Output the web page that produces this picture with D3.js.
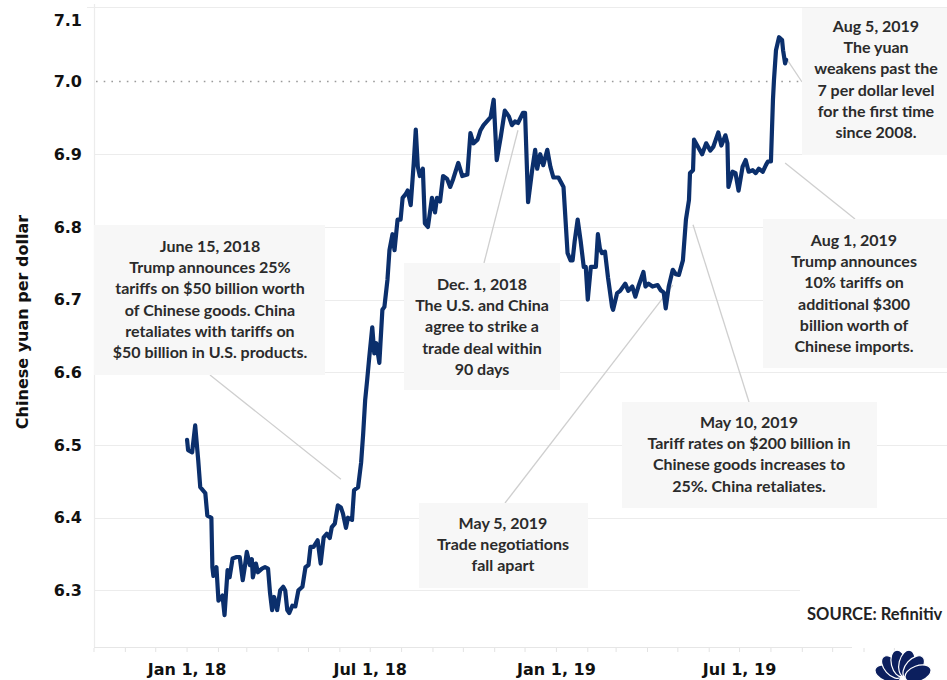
<!DOCTYPE html>
<html>
<head>
<meta charset="utf-8">
<script src="https://d3js.org/d3.v7.min.js"></script>
<style>
  body { margin: 0; background: #fff; }
  svg { display: block; }
</style>
</head>
<body>
<svg width="947" height="680"></svg>
<script>
  // USD/CNY daily close
  var dates = [
    "2018-01-01","2018-01-02","2018-01-06","2018-01-09","2018-01-12","2018-01-14","2018-01-19","2018-01-21",
    "2018-01-25","2018-01-26","2018-01-27","2018-01-30","2018-02-01","2018-02-05","2018-02-07","2018-02-10",
    "2018-02-12","2018-02-15","2018-02-19","2018-02-22","2018-02-25","2018-02-27","2018-03-01","2018-03-04",
    "2018-03-06","2018-03-07","2018-03-10","2018-03-12","2018-03-16","2018-03-19","2018-03-22","2018-03-24",
    "2018-03-26","2018-03-28","2018-03-31","2018-04-03","2018-04-06","2018-04-08","2018-04-10","2018-04-12",
    "2018-04-15","2018-04-18","2018-04-21","2018-04-25","2018-04-28","2018-05-01","2018-05-03","2018-05-06",
    "2018-05-10","2018-05-13","2018-05-16","2018-05-19","2018-05-22","2018-05-24","2018-05-27","2018-05-30",
    "2018-06-02","2018-06-04","2018-06-07","2018-06-09","2018-06-13","2018-06-15","2018-06-19","2018-06-22",
    "2018-06-24","2018-06-26","2018-06-28","2018-06-30","2018-07-03","2018-07-05","2018-07-07","2018-07-10",
    "2018-07-13","2018-07-15","2018-07-18","2018-07-20","2018-07-23","2018-07-25","2018-07-28","2018-07-31",
    "2018-08-02","2018-08-05","2018-08-07","2018-08-10","2018-08-13","2018-08-15","2018-08-17","2018-08-19",
    "2018-08-22","2018-08-24","2018-08-27","2018-08-31","2018-09-03","2018-09-05","2018-09-08","2018-09-11",
    "2018-09-15","2018-09-18","2018-09-21","2018-09-26","2018-09-30","2018-10-05","2018-10-08","2018-10-11",
    "2018-10-15","2018-10-18","2018-10-21","2018-10-28","2018-10-31","2018-11-03","2018-11-07","2018-11-11",
    "2018-11-15","2018-11-18","2018-11-21","2018-11-24","2018-11-29","2018-12-01","2018-12-04","2018-12-08",
    "2018-12-11","2018-12-13","2018-12-16","2018-12-19","2018-12-23","2018-12-26","2018-12-29","2019-01-03",
    "2019-01-08","2019-01-12","2019-01-15","2019-01-17","2019-01-19","2019-01-22","2019-01-25","2019-01-28",
    "2019-01-30","2019-02-01","2019-02-04","2019-02-09","2019-02-11","2019-02-13","2019-02-15","2019-02-18",
    "2019-02-21","2019-02-25","2019-02-26","2019-03-02","2019-03-05","2019-03-10","2019-03-13","2019-03-17",
    "2019-03-20","2019-03-23","2019-03-28","2019-03-30","2019-04-02","2019-04-06","2019-04-11","2019-04-14",
    "2019-04-17","2019-04-19","2019-04-22","2019-04-26","2019-04-29","2019-05-02","2019-05-06","2019-05-09",
    "2019-05-12","2019-05-13","2019-05-16","2019-05-17","2019-05-21","2019-05-25","2019-05-29","2019-06-02",
    "2019-06-05","2019-06-10","2019-06-13","2019-06-17","2019-06-19","2019-06-20","2019-06-24","2019-06-27",
    "2019-06-30","2019-07-04","2019-07-07","2019-07-10","2019-07-14","2019-07-17","2019-07-20","2019-07-24",
    "2019-07-27","2019-07-29","2019-08-01","2019-08-03","2019-08-04","2019-08-06","2019-08-09","2019-08-12",
    "2019-08-13","2019-08-15","2019-08-16"
  ];
  var rates = [
    6.507,6.493,6.490,6.527,6.479,6.442,6.434,6.403,
    6.400,6.332,6.320,6.332,6.286,6.293,6.266,6.328,
    6.318,6.344,6.346,6.346,6.314,6.332,6.353,6.335,
    6.343,6.318,6.337,6.325,6.330,6.332,6.330,6.296,
    6.273,6.291,6.273,6.300,6.305,6.300,6.273,6.269,
    6.279,6.278,6.300,6.305,6.332,6.335,6.360,6.360,
    6.369,6.337,6.373,6.378,6.372,6.387,6.392,6.417,
    6.414,6.406,6.386,6.400,6.397,6.438,6.442,6.476,
    6.515,6.562,6.590,6.620,6.662,6.626,6.640,6.613,
    6.686,6.690,6.727,6.768,6.790,6.768,6.810,6.810,
    6.840,6.845,6.850,6.830,6.888,6.934,6.883,6.870,
    6.880,6.805,6.800,6.840,6.820,6.840,6.835,6.870,
    6.866,6.855,6.866,6.888,6.870,6.872,6.929,6.915,
    6.920,6.933,6.940,6.951,6.975,6.892,6.924,6.960,
    6.952,6.940,6.945,6.943,6.957,6.957,6.834,6.878,
    6.906,6.880,6.900,6.885,6.906,6.883,6.868,6.868,
    6.855,6.764,6.754,6.754,6.780,6.810,6.780,6.745,
    6.745,6.700,6.745,6.745,6.790,6.770,6.764,6.766,
    6.730,6.690,6.686,6.709,6.712,6.722,6.712,6.718,
    6.704,6.718,6.738,6.718,6.722,6.718,6.720,6.713,
    6.710,6.688,6.718,6.741,6.735,6.734,6.754,6.810,
    6.837,6.874,6.878,6.920,6.910,6.900,6.915,6.905,
    6.910,6.930,6.912,6.926,6.915,6.855,6.876,6.874,
    6.850,6.883,6.892,6.876,6.878,6.874,6.880,6.876,
    6.885,6.890,6.890,6.975,7.002,7.043,7.061,7.057,
    7.043,7.025,7.030
  ];

  var yTicks = [6.3, 6.4, 6.5, 6.6, 6.7, 6.8, 6.9, 7.0, 7.1];
  var xTickDates = ["2018-01-01", "2018-07-01", "2019-01-01", "2019-07-01"];

  var noteTexts = [
    ["June 15, 2018", "Trump announces 25%", "tariffs on $50 billion worth", "of Chinese goods. China", "retaliates with tariffs on", "$50 billion in U.S. products."],
    ["Dec. 1, 2018", "The U.S. and China", "agree to strike a", "trade deal within", "90 days"],
    ["May 5, 2019", "Trade negotiations", "fall apart"],
    ["May 10, 2019", "Tariff rates on $200 billion in", "Chinese goods increases to", "25%. China retaliates."],
    ["Aug 1, 2019", "Trump announces", "10% tariffs on", "additional $300", "billion worth of", "Chinese imports."],
    ["Aug 5, 2019", "The yuan", "weakens past the", "7 per dollar level", "for the first time", "since 2008."]
  ];
  // point on the curve each leader line goes to
  var noteTargetDates = ["2018-06-02", "2018-11-24", "2019-04-26", "2019-05-16", "2019-08-15", "2019-08-17"];
  var noteTargetValues = [6.453, 6.933, 6.720, 6.803, 6.888, 7.030];

  // box layout (pixels)
  var noteBoxes = [
    { x: 94, y: 225, w: 231, h: 150, cx: 210, first: 252, lx: 210, ly: 375 },
    { x: 404, y: 263, w: 156, h: 127, cx: 482, first: 290, lx: 484, ly: 263 },
    { x: 419, y: 503, w: 169, h: 85, cx: 503, first: 529, lx: 505, ly: 503 },
    { x: 622, y: 402, w: 255, h: 106, cx: 749, first: 428, lx: 749, ly: 402 },
    { x: 763, y: 219, w: 184, h: 149, cx: 854, first: 246, lx: 855, ly: 219 },
    { x: 802, y: 8, w: 145, h: 147, cx: 876, first: 32, lx: 802, ly: 82 }
  ];

  var parse = d3.timeParse("%Y-%m-%d");
  var data = dates.map(function (d, i) {
    return { date: parse(d), value: rates[i] };
  });

  var svg = d3.select("svg"),
    plotLeft = 94, plotRight = 947, plotTop = 7, plotBottom = 647;

  var x = d3.scaleTime()
    .domain([parse("2017-10-01"), parse("2020-01-22")])
    .range([plotLeft, plotRight]);
  var y = d3.scaleLinear().domain([6.2222, 7.1025]).range([plotBottom, plotTop]);

  var heavy = "'DejaVu Sans', sans-serif";
  var noteFont = "Lato, 'Liberation Sans', sans-serif";

  // grid
  svg.append("g")
    .selectAll("line")
    .data(yTicks.filter(function (d) { return d !== 7.0 && d !== 7.1; }))
    .enter()
    .append("line")
    .attr("x1", plotLeft).attr("x2", plotRight)
    .attr("y1", function (d) { return Math.round(y(d)) + 0.5; })
    .attr("y2", function (d) { return Math.round(y(d)) + 0.5; })
    .attr("stroke", "#ececec")
    .attr("stroke-width", 1.2);

  svg.append("line")
    .attr("x1", 87).attr("x2", plotRight).attr("y1", plotTop + 0.5).attr("y2", plotTop + 0.5)
    .attr("stroke", "#ececec").attr("stroke-width", 1.2);
  svg.append("line")
    .attr("x1", plotLeft + 0.5).attr("x2", plotLeft + 0.5).attr("y1", 4).attr("y2", plotBottom)
    .attr("stroke", "#ececec").attr("stroke-width", 1.2);

  // x axis baseline with monthly ticks
  var xAxis = svg.append("g").attr("transform", "translate(0," + plotBottom + ")");
  xAxis.append("line")
    .attr("x1", plotLeft).attr("x2", 852).attr("y1", 0.5).attr("y2", 0.5)
    .attr("stroke", "#e6e6e6").attr("stroke-width", 1.2);
  xAxis.selectAll(".mt")
    .data(d3.timeMonth.range(parse("2017-10-01"), parse("2019-12-02")))
    .enter()
    .append("line")
    .attr("x1", function (d) { return x(d); })
    .attr("x2", function (d) { return x(d); })
    .attr("y1", 1).attr("y2", 5)
    .attr("stroke", "#e3e3e3");
  xAxis.selectAll("text")
    .data(xTickDates)
    .enter()
    .append("text")
    .attr("x", function (d) { return x(parse(d)); })
    .attr("y", 28)
    .attr("text-anchor", "middle")
    .style("font", "bold 16px " + heavy)
    .style("fill", "#111")
    .text(function (d) { return d3.timeFormat("%b %-d, %y")(parse(d)); });

  // y axis labels
  svg.append("g")
    .selectAll("text")
    .data(yTicks)
    .enter()
    .append("text")
    .attr("x", 82)
    .attr("y", function (d) { return d === 7.1 ? y(d) + 11 : y(d); })
    .attr("dy", "0.36em")
    .attr("text-anchor", "end")
    .style("font", "bold 16px " + heavy)
    .style("fill", "#111")
    .text(function (d) { return d.toFixed(1); });

  svg.append("text")
    .attr("transform", "translate(28," + 322 + ") rotate(-90)")
    .attr("text-anchor", "middle")
    .style("font", "bold 16px " + heavy)
    .style("fill", "#111")
    .text("Chinese yuan per dollar");

  // 7 per dollar reference
  svg.append("line")
    .attr("x1", plotLeft + 2).attr("x2", plotRight)
    .attr("y1", y(7.0)).attr("y2", y(7.0))
    .attr("stroke", "#9a9a9a")
    .attr("stroke-width", 1.6)
    .attr("stroke-dasharray", "1.6,6.1");

  // leader lines
  svg.append("g")
    .selectAll("line")
    .data(noteBoxes)
    .enter()
    .append("line")
    .attr("x1", function (d) { return d.lx; })
    .attr("y1", function (d) { return d.ly; })
    .attr("x2", function (d, i) { return x(parse(noteTargetDates[i])); })
    .attr("y2", function (d, i) { return y(noteTargetValues[i]); })
    .attr("stroke", "#cfcfcf")
    .attr("stroke-width", 1.3);

  // note boxes
  var note = svg.append("g")
    .selectAll("g")
    .data(noteBoxes)
    .enter()
    .append("g");
  note.append("rect")
    .attr("x", function (d) { return d.x; })
    .attr("y", function (d) { return d.y; })
    .attr("width", function (d) { return d.w; })
    .attr("height", function (d) { return d.h; })
    .attr("fill", "#f7f7f7");
  note.each(function (d, i) {
    d3.select(this)
      .selectAll("text")
      .data(noteTexts[i])
      .enter()
      .append("text")
      .attr("x", d.cx)
      .attr("y", function (t, j) { return d.first + j * 21.2; })
      .attr("text-anchor", "middle")
      .style("font", "bold 16px " + noteFont)
      .style("fill", "#2b2b2b")
      .text(function (t) { return t; });
  });

  // the series
  var line = d3.line()
    .x(function (d) { return x(d.date); })
    .y(function (d) { return y(d.value); });

  svg.append("path")
    .datum(data)
    .attr("d", line)
    .attr("fill", "none")
    .attr("stroke", "#0b2f6c")
    .attr("stroke-width", 4.2)
    .attr("stroke-linejoin", "round")
    .attr("stroke-linecap", "round");

  // source + logo
  svg.append("rect").attr("x", 800).attr("y", 585).attr("width", 147).attr("height", 50).attr("fill", "#fff");
  svg.append("text")
    .attr("x", 807).attr("y", 620)
    .style("font", "bold 16.5px " + noteFont)
    .style("fill", "#222")
    .text("SOURCE: Refinitiv");

  var logo = svg.append("g").attr("transform", "translate(903,679)");
  [-70, -42, -14, 14, 42, 70].forEach(function (a) {
    logo.append("ellipse")
      .attr("cx", 0).attr("cy", -16)
      .attr("rx", 7.8).attr("ry", 13.5)
      .attr("transform", "rotate(" + a + ")")
      .attr("fill", "#0c1f5e")
      .attr("stroke", "#fff")
      .attr("stroke-width", 1.2);
  });
</script>
</body>
</html>
